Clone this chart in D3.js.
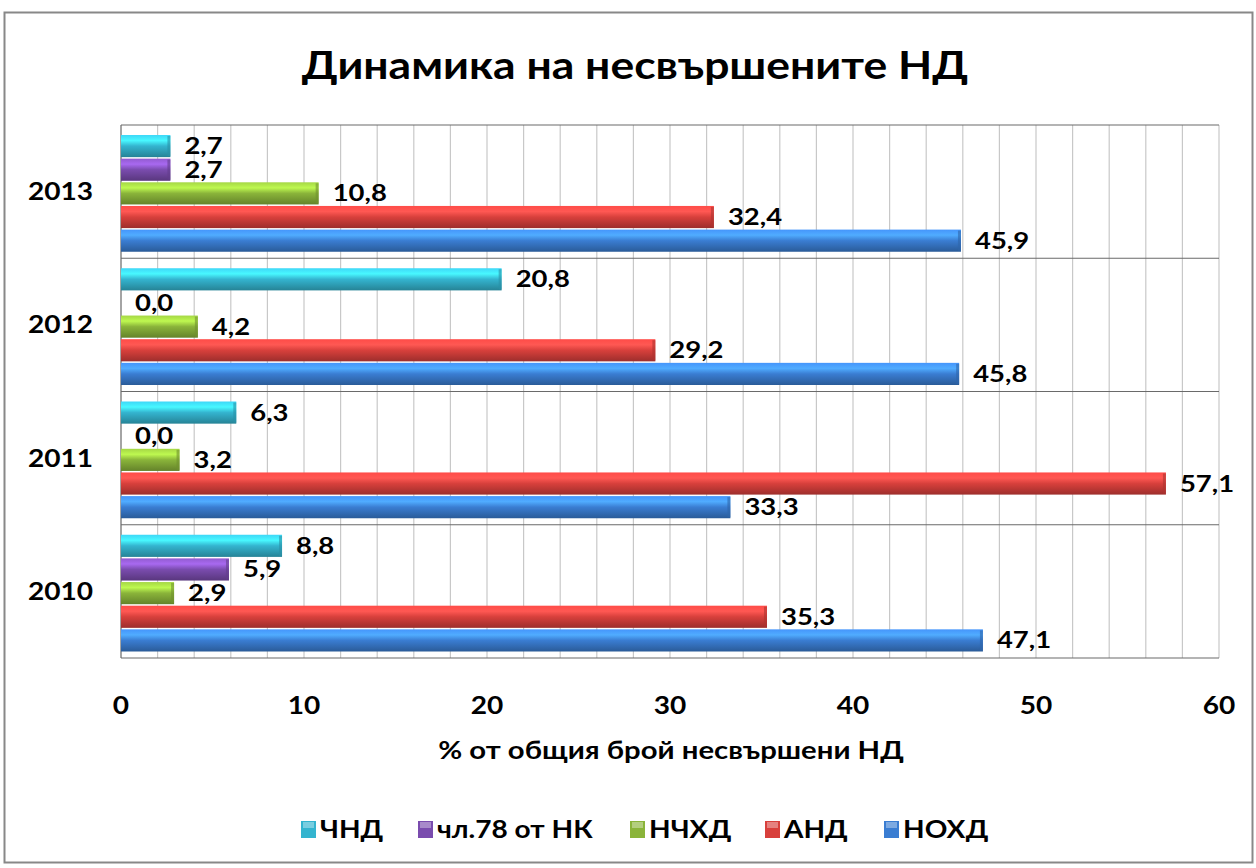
<!DOCTYPE html>
<html>
<head>
<meta charset="utf-8">
<script src="https://cdn.jsdelivr.net/npm/d3@7"></script>
<style>
body { margin: 0; background: #fff; }
text { font-family: Lato, "Open Sans", sans-serif; font-weight: bold; fill: #000; }
</style>
</head>
<body>
<div class="view"></div>
<script>
var width = 1256;
var height = 868;

var years = ["2013", "2012", "2011", "2010"];
var series = ["ЧНД", "чл.78 от НК", "НЧХД", "АНД", "НОХД"];
var colors = ["#34b4cf", "#7a4cae", "#8ab43a", "#d8403c", "#3a7dd2"];
var xTicks = [0, 10, 20, 30, 40, 50, 60];

// values per series, same order as years
var chnd   = [2.7, 20.8, 6.3, 8.8];
var chl78  = [2.7, 0.0, 0.0, 5.9];
var nchhd  = [10.8, 4.2, 3.2, 2.9];
var and    = [32.4, 29.2, 57.1, 35.3];
var nohd   = [45.9, 45.8, 33.3, 47.1];
var values = [chnd, chl78, nchhd, and, nohd];

var plot = { left: 121, right: 1219, top: 125, bottom: 658 };
var stretch = 1.17;

var svg = d3.select(".view")
    .append("svg")
    .attr("width", width)
    .attr("height", height);

// text is a bit wider than Lato, so stretch it horizontally
function label(parent, x, y, str, size, anchor, sx) {
    return parent.append("text")
        .attr("transform", "translate(" + x + "," + y + ") scale(" + (sx || stretch) + ",1)")
        .attr("text-anchor", anchor || "start")
        .attr("font-size", size)
        .text(str);
}

// chart frame
svg.append("rect")
    .attr("x", 4.5).attr("y", 12.5)
    .attr("width", 1248).attr("height", 850)
    .attr("fill", "#fff")
    .attr("stroke", "#888")
    .attr("stroke-width", 2);

var defs = svg.append("defs");
colors.forEach(function (c, i) {
    var g = defs.append("linearGradient")
        .attr("id", "grad" + i)
        .attr("x1", 0).attr("y1", 0).attr("x2", 0).attr("y2", 1);
    var base = d3.color(c);
    g.append("stop").attr("offset", "0%").attr("stop-color", base.brighter(0.5));
    g.append("stop").attr("offset", "25%").attr("stop-color", base.brighter(0.9));
    g.append("stop").attr("offset", "50%").attr("stop-color", base);
    g.append("stop").attr("offset", "100%").attr("stop-color", base.darker(0.9));
});

var x = d3.scaleLinear()
    .domain([0, 60])
    .range([plot.left, plot.right]);

var y = d3.scaleBand()
    .domain(years)
    .range([plot.top, plot.bottom]);

var sub = d3.scaleBand()
    .domain(series)
    .range([10, y.bandwidth() - 5]);

// minor vertical grid every 2
svg.append("g")
    .selectAll("line")
    .data(d3.range(0, 61, 2))
    .enter().append("line")
    .attr("x1", function (d) { return x(d); })
    .attr("x2", function (d) { return x(d); })
    .attr("y1", plot.top)
    .attr("y2", plot.bottom)
    .attr("stroke", "#c8c8c8")
    .attr("stroke-width", 1.2);

// category separators
svg.append("g")
    .selectAll("line")
    .data(years.concat(["end"]))
    .enter().append("line")
    .attr("x1", plot.left)
    .attr("x2", plot.right)
    .attr("y1", function (d) { return d == "end" ? plot.bottom : y(d); })
    .attr("y2", function (d) { return d == "end" ? plot.bottom : y(d); })
    .attr("stroke", "#6a6a6a")
    .attr("stroke-width", 1.2);

svg.append("line")
    .attr("x1", plot.left).attr("x2", plot.left)
    .attr("y1", plot.top).attr("y2", plot.bottom)
    .attr("stroke", "#6a6a6a");

// bars
var groups = svg.append("g")
    .selectAll("g")
    .data(years)
    .enter().append("g")
    .attr("transform", function (d) { return "translate(0," + y(d) + ")"; });

groups.each(function (yr, yi) {
    var g = d3.select(this);
    series.forEach(function (s, si) {
        var v = values[si][yi];
        var by = sub(s);
        var bh = sub.bandwidth() - 1.5;
        if (v > 0) {
            g.append("rect")
                .attr("x", x(0))
                .attr("y", by)
                .attr("width", x(v) - x(0))
                .attr("height", bh)
                .attr("fill", "url(#grad" + si + ")");
            // end cap
            g.append("rect")
                .attr("x", x(v) - 3)
                .attr("y", by + 1)
                .attr("width", 3)
                .attr("height", bh - 2)
                .attr("fill", d3.color(colors[si]).darker(0.6))
                .attr("opacity", 0.6);
        }
        label(g, x(v) + 14, by + bh / 2 + 8,
            d3.format(".1f")(v).replace(".", ","), 22.5, "start", 1.22);
    });
});

// year labels
years.forEach(function (d) {
    label(svg, 93, y(d) + y.bandwidth() / 2 + 8.5, d, 24, "end");
});

// x tick labels
xTicks.forEach(function (d) {
    label(svg, x(d), 714, d, 24, "middle");
});

label(svg, 671, 759, "% от общия брой несвършени НД", 24, "middle", 1.22);

// title
label(svg, 635, 79, "Динамика на несвършените НД", 38, "middle");

// legend
var legendX = [301, 418, 630, 765, 884];
var legend = svg.append("g")
    .selectAll("g")
    .data(series)
    .enter().append("g")
    .attr("transform", function (d, i) { return "translate(" + legendX[i] + ",829)"; });

legend.append("rect")
    .attr("x", 0).attr("y", -8)
    .attr("width", 15).attr("height", 17)
    .attr("fill", function (d, i) { return colors[i]; });

legend.append("rect")
    .attr("x", 2).attr("y", -7)
    .attr("width", 11).attr("height", 6)
    .attr("fill", "#fff")
    .attr("opacity", 0.35);

legend.each(function (d) {
    label(d3.select(this), 19, 8.5, d, 24);
});
</script>
</body>
</html>
